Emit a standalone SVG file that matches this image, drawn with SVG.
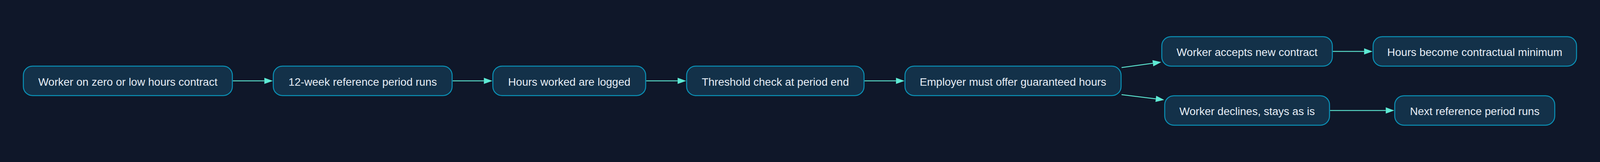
<svg xmlns="http://www.w3.org/2000/svg" width="4897" height="414" viewBox="0 0 4897 414">
<style>
.node rect{fill:#133149;stroke:#0a91b6;stroke-width:3}
.node text{font-family:"Liberation Sans",Arial,sans-serif;font-size:33.5px;fill:#e6edf5;text-anchor:middle}
.edges line{stroke:#5eead4;stroke-width:2.7;fill:none}
</style>
<defs>
<marker id="arr" markerUnits="userSpaceOnUse" markerWidth="27" markerHeight="20" refX="0" refY="9.5" orient="auto" overflow="visible">
<path d="M0,0 L26,9.5 L0,19 Z" fill="#5eead4"/>
</marker>
</defs>
<rect width="4897" height="414" fill="#0f1729"/>
<g id="diagram" transform="translate(0,33.86) scale(0.83643)">
<g id="connectors" class="edges">
<line x1="712.7" y1="206.6" x2="809" y2="206.6" marker-end="url(#arr)"/>
<line x1="1385.3" y1="206.6" x2="1481" y2="206.6" marker-end="url(#arr)"/>
<line x1="1977.7" y1="206.6" x2="2074" y2="206.6" marker-end="url(#arr)"/>
<line x1="2646" y1="206.6" x2="2742.3" y2="206.6" marker-end="url(#arr)"/>
<line x1="3432.7" y1="166" x2="3528.5" y2="152.8" marker-end="url(#arr)"/>
<line x1="3432.7" y1="248.7" x2="3537.5" y2="261.5" marker-end="url(#arr)"/>
<line x1="4079.3" y1="116.6" x2="4175" y2="116.6" marker-end="url(#arr)"/>
<line x1="4070.7" y1="297" x2="4241.3" y2="297" marker-end="url(#arr)"/>
</g>
<g id="n1" class="node"><rect x="71.5" y="161.6" width="639.7" height="90" rx="28"/><text x="391.35" y="221">Worker on zero or low hours contract</text></g>
<g id="n2" class="node"><rect x="836.5" y="161.6" width="547.3" height="90" rx="28"/><text x="1110.15" y="221">12-week reference period runs</text></g>
<g id="n3" class="node"><rect x="1508.5" y="161.6" width="467.7" height="90" rx="28"/><text x="1742.35" y="221">Hours worked are logged</text></g>
<g id="n4" class="node"><rect x="2101.5" y="161.6" width="543" height="90" rx="28"/><text x="2373" y="221">Threshold check at period end</text></g>
<g id="n5" class="node"><rect x="2769.8" y="161.6" width="661.4" height="90" rx="28"/><text x="3100.5" y="221">Employer must offer guaranteed hours</text></g>
<g id="n6" class="node"><rect x="3555.8" y="71.6" width="522" height="90" rx="28"/><text x="3816.8" y="131">Worker accepts new contract</text></g>
<g id="n7" class="node"><rect x="3564.8" y="252" width="504.4" height="90" rx="28"/><text x="3817" y="311.4">Worker declines, stays as is</text></g>
<g id="n8" class="node"><rect x="4202.5" y="71.6" width="622.7" height="90" rx="28"/><text x="4513.85" y="131">Hours become contractual minimum</text></g>
<g id="n9" class="node"><rect x="4268.8" y="252" width="489.7" height="90" rx="28"/><text x="4513.65" y="311.4">Next reference period runs</text></g>
</g>
</svg>
